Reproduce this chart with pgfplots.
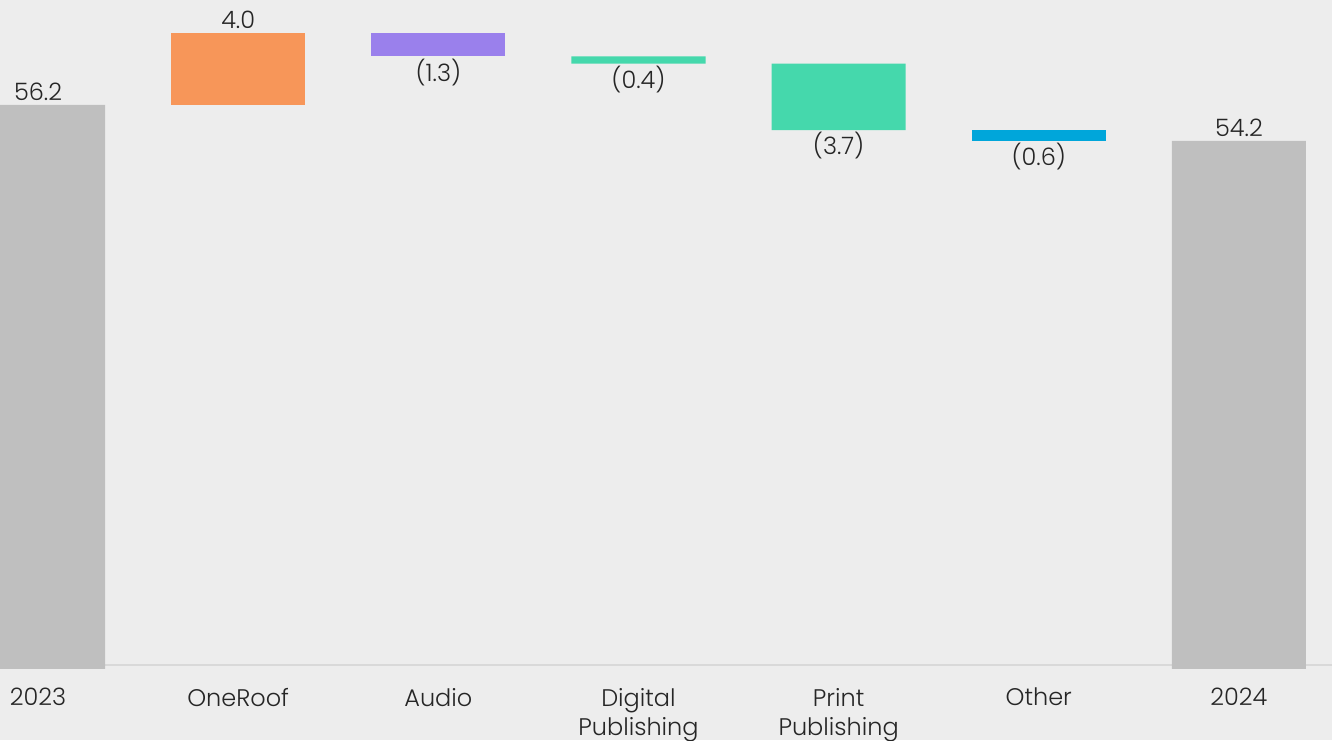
\documentclass[border=0pt]{standalone}
\usepackage{pgfplots}
\pgfplotsset{compat=1.18}
\usepackage{fontspec}
\setmainfont{Poppins Light}
\definecolor{bg}{HTML}{EDEDED}
\definecolor{totgray}{HTML}{BFBFBF}
\definecolor{orng}{HTML}{F79659}
\definecolor{purp}{HTML}{9A80EC}
\definecolor{grn}{HTML}{45D8AC}
\definecolor{blu}{HTML}{00A6DA}
\definecolor{axcol}{HTML}{D9D9D9}
\definecolor{txt}{HTML}{262626}
\newcommand{\lblfont}{\fontsize{12}{14.5}\selectfont}
\pgfplotsset{
  wfbase/.style={at={(0,-1.5pt)}, anchor=south west, width=666pt, height=334pt,
    scale only axis, xmin=-0.19, xmax=6.465, ymin=24.92, ymax=62.03},
}
\begin{document}
\begin{tikzpicture}
\fill[bg] (0,-37.5pt) rectangle (666pt,332.5pt);
\begin{axis}[wfbase,
  ybar stacked, bar width=0.67, bar shift=0pt,
  hide y axis,
  axis x line*=bottom,
  x axis line style={draw=axcol, line width=1pt, -, yshift=1.5pt},
  xtick={0,1,2,3,4,5,6},
  xticklabels={2023,OneRoof,Audio,{Digital\\Publishing},{Print\\Publishing},Other,2024},
  xticklabel style={align=center, font=\lblfont, text=txt, yshift=-6.5pt},
  major tick length=0pt,
]
% invisible base
\addplot[draw=none, fill=none] coordinates {(0,0) (1,56.2) (2,58.9) (3,58.5) (4,54.8) (5,54.2) (6,0)};
% totals
\addplot[draw=none, fill=totgray] coordinates {(0,56.2) (1,0) (2,0) (3,0) (4,0) (5,0) (6,54.2)};
% OneRoof
\addplot[draw=none, fill=orng] coordinates {(0,0) (1,4.0) (2,0) (3,0) (4,0) (5,0) (6,0)};
% Audio
\addplot[draw=none, fill=purp] coordinates {(0,0) (1,0) (2,1.3) (3,0) (4,0) (5,0) (6,0)};
% Digital & Print Publishing
\addplot[draw=none, fill=grn] coordinates {(0,0) (1,0) (2,0) (3,0.4) (4,3.7) (5,0) (6,0)};
% Other
\addplot[draw=none, fill=blu] coordinates {(0,0) (1,0) (2,0) (3,0) (4,0) (5,0.6) (6,0)};
\end{axis}
\begin{axis}[wfbase, hide axis]
\addplot[draw=none, mark=none, nodes near coords, point meta=explicit symbolic,
  nodes near coords style={anchor=south, font=\lblfont, text=txt, inner sep=2pt}]
  table[meta=lab] {
x y lab
0 56.2 56.2
1 60.2 4.0
6 54.2 54.2
};
\addplot[draw=none, mark=none, nodes near coords, point meta=explicit symbolic,
  nodes near coords style={anchor=north, font=\lblfont, text=txt, inner sep=1pt}]
  table[meta=lab] {
x y lab
2 58.9 (1.3)
3 58.5 (0.4)
4 54.8 (3.7)
5 54.2 (0.6)
};
\end{axis}
\pgfresetboundingbox
\useasboundingbox (0,-37.5pt) rectangle (666pt,332.5pt);
\end{tikzpicture}
\end{document}
